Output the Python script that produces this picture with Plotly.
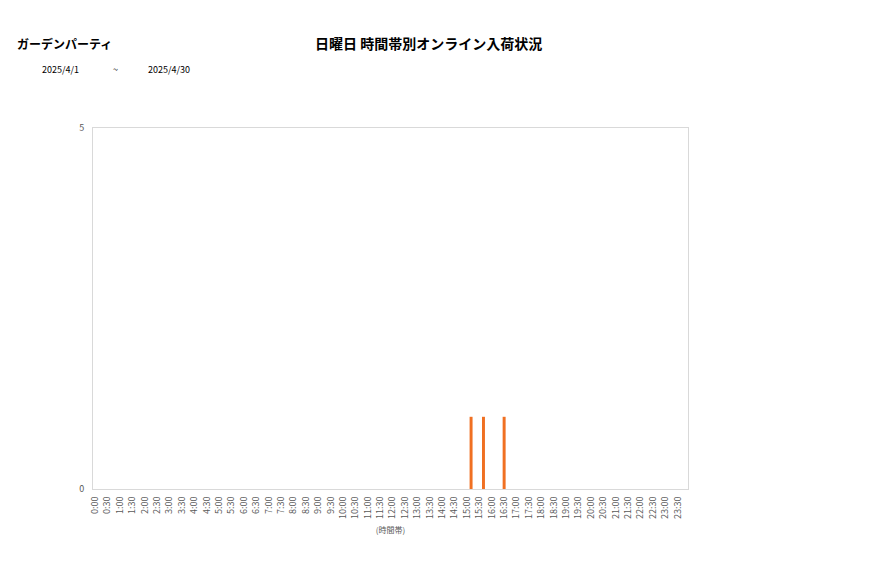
import plotly.graph_objects as go

# 10-minute slots through the day, axis labels every 30 minutes
time_slots = [f"{h}:{m:02d}" for h in range(24) for m in (0, 10, 20, 30, 40, 50)]
tick_labels = [f"{h}:{m:02d}" for h in range(24) for m in (0, 30)]

# slots that had arrivals (all other slots are 0)
arrival_slots = ["15:10", "15:40", "16:30"]
arrival_counts = [1, 1, 1]

shop_name = "ガーデンパーティ"
chart_title = "日曜日 時間帯別オンライン入荷状況"
date_from = "2025/4/1"
date_to = "2025/4/30"

font = "Noto Sans CJK JP"
grey = "#595959"

# page body adds an 8px offset, so plot box is placed 8px up/left
L, T, W, H = 85, 120, 595, 361

fig = go.Figure(go.Bar(
    x=arrival_slots,
    y=arrival_counts,
    marker=dict(color="#f07022", line=dict(width=0)),
    width=0.72,
))

fig.update_layout(
    width=877, height=578,
    margin=dict(l=L, r=877 - L - W, t=T, b=578 - T - H),
    paper_bgcolor="white", plot_bgcolor="white",
    font=dict(family=font, color=grey, size=9),
    showlegend=False,
)

fig.update_xaxes(
    type="category", categoryorder="array", categoryarray=time_slots,
    range=[-0.5, len(time_slots) - 0.5],
    tickmode="array", tickvals=tick_labels, ticktext=tick_labels,
    tickangle=-90, tickfont=dict(size=9, color=grey),
    showgrid=False, showline=True, linecolor="#d9d9d9", mirror=True,
    ticks="", zeroline=False, ticklabelstandoff=3,
    title=dict(text="(時間帯)", font=dict(size=8, color=grey), standoff=9),
)
fig.update_yaxes(
    range=[0, 5], tickmode="array", tickvals=[0, 5],
    tickfont=dict(size=9, color=grey),
    showgrid=False, showline=True, linecolor="#d9d9d9", mirror=True,
    zeroline=False, ticks="", ticklen=0, ticklabelstandoff=6,
)


def px_x(px):
    return (px - 8 - L) / W


def px_y(py):
    return 1 - (py - 8 - T) / H


fig.add_annotation(text=f"<b>{shop_name}</b>", xref="paper", yref="paper",
                   x=px_x(15), y=px_y(43), xanchor="left", yanchor="middle",
                   showarrow=False, font=dict(family=font, size=12, color="#000000"))
fig.add_annotation(text=f"<b>{chart_title}</b>", xref="paper", yref="paper",
                   x=px_x(428), y=px_y(43), xanchor="center", yanchor="middle",
                   showarrow=False, font=dict(family=font, size=14, color="#000000"))
for txt, px in [(date_from, 40), ("~", 111), (date_to, 146)]:
    fig.add_annotation(text=txt, xref="paper", yref="paper",
                       x=px_x(px), y=px_y(70), xanchor="left", yanchor="middle",
                       showarrow=False, font=dict(family=font, size=9, color="#000000"))

fig.write_html("out.html")
